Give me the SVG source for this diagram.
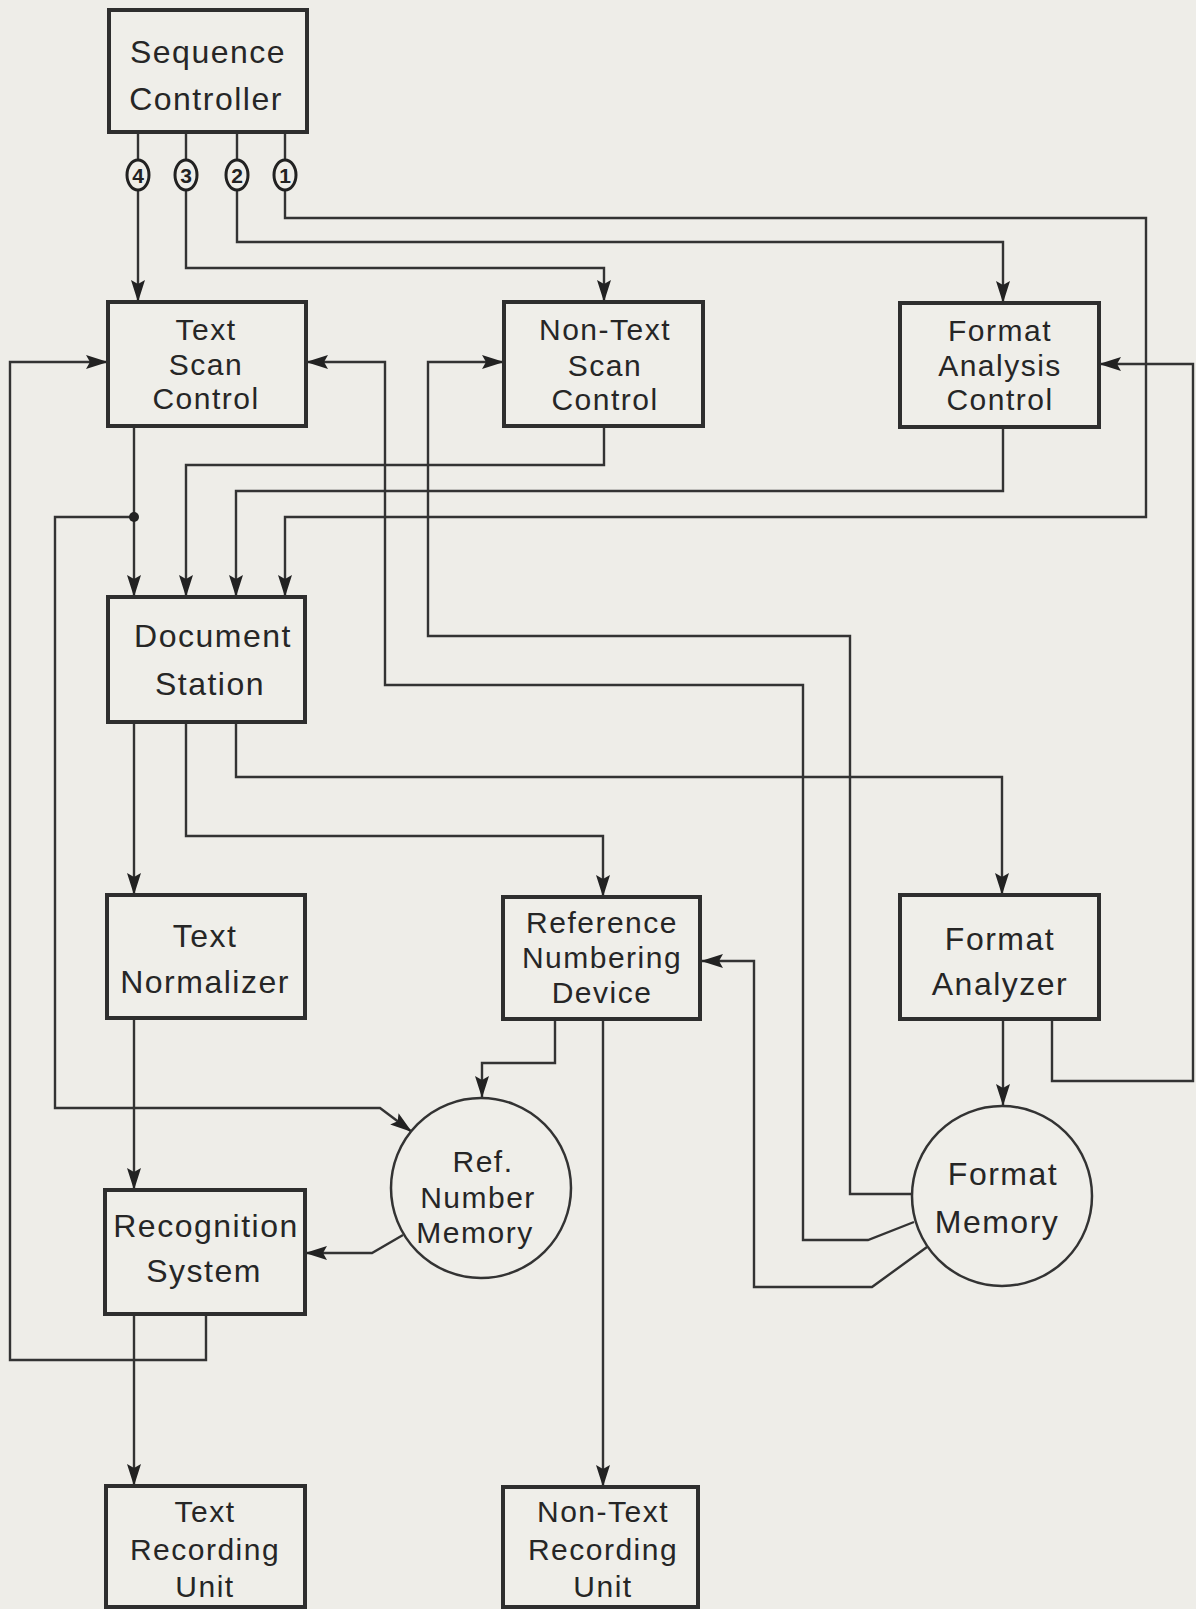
<svg xmlns="http://www.w3.org/2000/svg" width="1196" height="1609" viewBox="0 0 1196 1609">
<style>
.bg{fill:#eeede8}
.box{fill:#efeee9;stroke:#2e2e2e;stroke-width:4}
.circ{fill:#efeee9;stroke:#333;stroke-width:2.5}
.w{fill:none;stroke:#333;stroke-width:2.4;marker-end:url(#ah)}
.t{font-family:"Liberation Sans",Arial,sans-serif;font-size:32px;fill:#262626;text-anchor:middle;letter-spacing:1.5px}
.s{font-size:30px}
.num{fill:#efeee9;stroke:#222;stroke-width:3}
.nt{font-family:"Liberation Sans",Arial,sans-serif;font-size:21px;font-weight:bold;fill:#222;text-anchor:middle}
</style>
<defs>
<marker id="ah" viewBox="0 0 22 14" refX="22" refY="7" markerWidth="22" markerHeight="14" markerUnits="userSpaceOnUse" orient="auto">
<path d="M0,0 L22,7 L0,14 L4,7 z" fill="#222"/>
</marker>
</defs>
<rect class="bg" x="0" y="0" width="1196" height="1609"/>
<g id="connectors">
<path class="w" d="M138,132 V302"/>
<path class="w" d="M186,132 V268 H604 V302"/>
<path class="w" d="M237,132 V242 H1003 V303"/>
<path class="w" d="M285,132 V218 H1146 V517 H285 V597"/>
<path class="w" d="M134,426 V597"/>
<path class="w" d="M134,517 H55 V1108 H380 L412,1132"/>
<circle cx="134" cy="517" r="5" fill="#222"/>
<path class="w" d="M604,426 V465 H186 V597"/>
<path class="w" d="M1003,427 V491 H236 V597"/>
<path class="w" d="M914,1222 L868,1240 H803 V685 H385 V362 H306"/>
<path class="w" d="M912,1194 H850 V636 H428 V362 H504"/>
<path class="w" d="M927,1247 L872,1287 H754 V961 H701"/>
<path class="w" d="M1052,1019 V1081 H1193 V364 H1099"/>
<path class="w" d="M1003,1019 V1106"/>
<path class="w" d="M134,722 V895"/>
<path class="w" d="M186,722 V836 H603 V897"/>
<path class="w" d="M236,722 V777 H1002 V895"/>
<path class="w" d="M555,1019 V1063 H482 V1098"/>
<path class="w" d="M603,1019 V1487"/>
<path class="w" d="M134,1018 V1190"/>
<path class="w" d="M403,1235 L372,1253 H305"/>
<path class="w" d="M134,1314 V1486"/>
<path class="w" d="M206,1314 V1360 H10 V362 H108"/>
</g>
<g id="labels">
<ellipse class="num" cx="138" cy="175" rx="11" ry="15"/><text class="nt" x="138" y="183">4</text>
<ellipse class="num" cx="186" cy="175" rx="11" ry="15"/><text class="nt" x="186" y="183">3</text>
<ellipse class="num" cx="237" cy="175" rx="11" ry="15"/><text class="nt" x="237" y="183">2</text>
<ellipse class="num" cx="285" cy="175" rx="11" ry="15"/><text class="nt" x="285" y="183">1</text>
</g>
<g id="sequence-controller">
<rect class="box" x="109" y="10" width="198" height="122"/>
<text class="t" x="208" y="63">Sequence</text>
<text class="t" x="206" y="110">Controller</text>
</g>
<g id="text-scan-control">
<rect class="box" x="108" y="302" width="198" height="124"/>
<text class="t s" x="206" y="340">Text</text>
<text class="t s" x="206" y="375">Scan</text>
<text class="t s" x="206" y="409">Control</text>
</g>
<g id="non-text-scan-control">
<rect class="box" x="504" y="302" width="199" height="124"/>
<text class="t s" x="605" y="340">Non-Text</text>
<text class="t s" x="605" y="376">Scan</text>
<text class="t s" x="605" y="410">Control</text>
</g>
<g id="format-analysis-control">
<rect class="box" x="900" y="303" width="199" height="124"/>
<text class="t s" x="1000" y="341">Format</text>
<text class="t s" x="1000" y="376">Analysis</text>
<text class="t s" x="1000" y="410">Control</text>
</g>
<g id="document-station">
<rect class="box" x="108" y="597" width="197" height="125"/>
<text class="t" x="213" y="647">Document</text>
<text class="t" x="210" y="695">Station</text>
</g>
<g id="text-normalizer">
<rect class="box" x="107" y="895" width="198" height="123"/>
<text class="t" x="205" y="947">Text</text>
<text class="t" x="205" y="993">Normalizer</text>
</g>
<g id="reference-numbering-device">
<rect class="box" x="503" y="897" width="197" height="122"/>
<text class="t s" x="602" y="933">Reference</text>
<text class="t s" x="602" y="968">Numbering</text>
<text class="t s" x="602" y="1003">Device</text>
</g>
<g id="format-analyzer">
<rect class="box" x="900" y="895" width="199" height="124"/>
<text class="t" x="1000" y="950">Format</text>
<text class="t" x="1000" y="995">Analyzer</text>
</g>
<g id="ref-number-memory">
<circle class="circ" cx="481" cy="1188" r="90"/>
<text class="t s" x="483" y="1172">Ref.</text>
<text class="t s" x="478" y="1208">Number</text>
<text class="t s" x="475" y="1243">Memory</text>
</g>
<g id="format-memory">
<circle class="circ" cx="1002" cy="1196" r="90"/>
<text class="t" x="1003" y="1185">Format</text>
<text class="t" x="997" y="1233">Memory</text>
</g>
<g id="recognition-system">
<rect class="box" x="105" y="1190" width="200" height="124"/>
<text class="t" x="206" y="1237">Recognition</text>
<text class="t" x="204" y="1282">System</text>
</g>
<g id="text-recording-unit">
<rect class="box" x="106" y="1486" width="199" height="121"/>
<text class="t s" x="205" y="1522">Text</text>
<text class="t s" x="205" y="1560">Recording</text>
<text class="t s" x="205" y="1597">Unit</text>
</g>
<g id="non-text-recording-unit">
<rect class="box" x="503" y="1487" width="195" height="120"/>
<text class="t s" x="603" y="1522">Non-Text</text>
<text class="t s" x="603" y="1560">Recording</text>
<text class="t s" x="603" y="1597">Unit</text>
</g>
</svg>
